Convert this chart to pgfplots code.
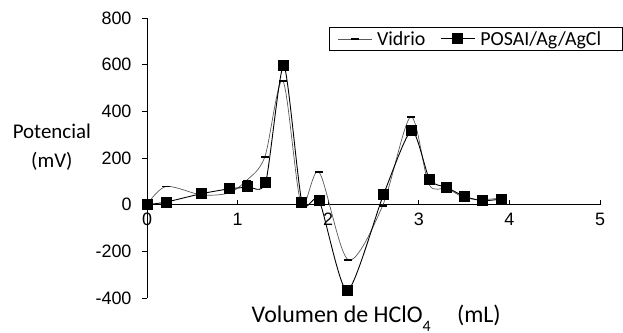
\documentclass[border=0pt]{standalone}
\usepackage{fontspec}
\setmainfont{Carlito}
\newfontfamily\tickfont{Liberation Sans}
\usepackage{pgfplots}
\pgfplotsset{compat=1.18}
\begin{document}
\begin{tikzpicture}
\begin{axis}[
  scale only axis, width=453bp, height=280bp,
  xmin=0, xmax=5, ymin=-400, ymax=800,
  axis x line=middle, axis y line=left,
  axis line style={-, line width=0.7pt},
  hide obscured x ticks=false, hide obscured y ticks=false,
  xtick={0,1,2,3,4,5}, ytick={-400,-200,0,200,400,600,800},
  xticklabel={\tickfont\fontsize{18}{18}\selectfont\pgfmathprintnumber[assume math mode=true]{\tick}},
  yticklabel={\tickfont\fontsize{18}{18}\selectfont\pgfmathprintnumber[assume math mode=true]{\tick}},
  tick align=inside, major tick length=5bp,
  tick style={black, line width=0.7pt},
  y tick style={xshift=-5bp},
  xticklabel style={yshift=-5bp, font=\fontsize{18}{18}\selectfont},
  yticklabel style={xshift=-12bp, font=\fontsize{18}{18}\selectfont},
  ylabel={Potencial\\(mV)},
  ylabel style={at={(rel axis cs:-0.21,0.539)}, rotate=-90, anchor=center, align=center, font=\fontsize{21}{29}\selectfont},
  xlabel={Volumen de HClO\raisebox{-0.35em}{\fontsize{16}{16}\selectfont 4}\hspace{1.1em}(mL)},
  xlabel style={at={(rel axis cs:0.506,-0.072)}, anchor=center, font=\fontsize{24}{24}\selectfont},
  legend style={at={(rel axis cs:0.402,0.968)}, anchor=north west, draw=black, line width=0.6pt,
    font=\fontsize{20}{22}\selectfont, inner xsep=8bp, inner ysep=2bp,
    /tikz/every odd column/.append style={column sep=3bp},
    /tikz/every even column/.append style={column sep=13bp}},
  legend columns=2,
  legend image code/.code={\draw[mark repeat=2,mark phase=2] plot coordinates {(0cm,0cm)(0.6cm,0cm)(1.2cm,0cm)};},
]
\coordinate (O) at (rel axis cs:0,0);
\addplot[color=black!65, line width=0.7pt, smooth, tension=0.5, mark=-, mark size=4bp, mark options={black, line width=1.6pt}]
 coordinates {(0,0) (0.21,78) (0.6,42) (0.9,50) (1.1,104) (1.3,204) (1.5,530) (1.7,5) (1.9,139) (2.22,-236) (2.6,-5) (2.91,376) (3.11,88) (3.31,70) (3.5,30) (3.7,22) (3.9,28)};
\addlegendentry{Vidrio}
\addplot[black, line width=0.9pt, smooth, tension=0.4, mark=square*, mark size=5bp]
 coordinates {(0,0) (0.21,11) (0.6,47) (0.91,68) (1.11,76) (1.31,97) (1.51,596) (1.71,11) (1.9,18) (2.21,-369) (2.61,43) (2.92,318) (3.12,107) (3.31,74) (3.5,36) (3.7,17) (3.91,24)};
\addlegendentry{\makebox[132bp][l]{POSAI/Ag/AgCl}}
\end{axis}
\pgfresetboundingbox
\useasboundingbox ([shift={(-147bp,-35bp)}]O) rectangle ++(623bp,333bp);
\end{tikzpicture}
\end{document}
